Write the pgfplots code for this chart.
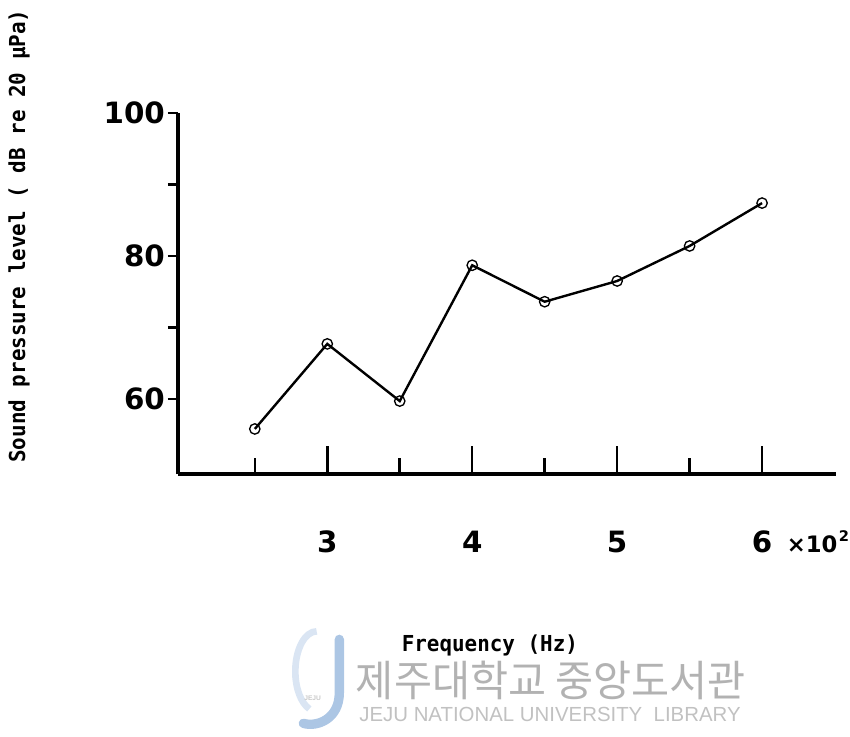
\documentclass[border=0pt]{standalone}
\usepackage{pgfplots}
\pgfplotsset{compat=1.18}
\usepackage{fontspec}
\newfontfamily\tickfont{DejaVu Sans}
\newfontfamily\labelfont{DejaVu Sans Mono}[FakeStretch=0.95]
\newfontfamily\krfont{Noto Sans CJK KR}[FakeStretch=0.97]
\newfontfamily\wmfont{Liberation Sans}
\definecolor{wmgray}{RGB}{178,178,178}
\definecolor{logoblue}{RGB}{172,198,228}

% Sound pressure level versus frequency (x 100 Hz)
\pgfplotstableread{
f   spl
2.5 55.8
3.0 67.7
3.5 59.7
4.0 78.7
4.5 73.6
5.0 76.5
5.5 81.4
6.0 87.4
}\spldata

\pgfplotsset{
  frame/.style={
    at={(0,0)}, anchor=south west, scale only axis,
    width=493.5pt, height=270.75pt,
    xmin=1.97, xmax=6.51, ymin=49.5, ymax=100,
    tick style={black, line width=1.9pt},
    major tick style={black, line width=1.9pt},
    minor tick style={black, line width=1.9pt},
    clip=false,
  },
  thickline/.style={
    axis line style={-, line width=2.3pt, black},
    every outer x axis line/.append style={-},
    every outer y axis line/.append style={-},
  },
}

\begin{document}
\begin{tikzpicture}
\path[use as bounding box] (-133.5pt,-196.5pt) rectangle (504pt,355.5pt);

% library watermark
\draw[logoblue, line width=7pt, line cap=round]
  (121pt,-124pt) -- (121pt,-164pt)
  .. controls (121pt,-184pt) and (104pt,-190pt) .. (94pt,-187pt);
\draw[logoblue!45, line width=5pt] (104pt,-118pt) arc (90:250:16pt and 30pt);
\node[wmgray!70, font=\wmfont\bfseries\fontsize{5}{5}\selectfont] at (101pt,-168pt) {JEJU};
\node[wmgray, font=\krfont\fontsize{32}{32}\selectfont] at (279.75pt,-154.5pt)
  {제주대학교 중앙도서관};
\node[wmgray!80, font=\wmfont\fontsize{15.3}{15.3}\selectfont] at (279pt,-180pt)
  {JEJU NATIONAL UNIVERSITY\ \ LIBRARY};

% y axis and the measured curve
\begin{axis}[frame,
  axis x line=none, axis y line*=left, thickline,
  ytick={60,70,80,90,100}, yticklabels={60,,80,,100},
  tick align=outside, major tick length=7.5pt,
  yticklabel style={font=\tickfont\bfseries\fontsize{22}{22}\selectfont, xshift=1.2pt},
  ylabel={Sound pressure level ( dB re 20 μPa)},
  ylabel style={font=\labelfont\bfseries\fontsize{16.5}{16.5}\selectfont,
    at={(axis description cs:-0.2416,0.659)}, anchor=center},
]
\addplot[black, line width=1.8pt, mark=o, mark size=3.9pt,
  mark options={fill=white, line width=1.0pt}] table[x=f, y=spl] {\spldata};
\end{axis}

% x axis with inward ticks
\begin{axis}[frame,
  axis y line=none, axis x line*=bottom, thickline,
  xtick={3,4,5,6},
  xticklabels={3,4,5,{6\rlap{\hspace{0.5em}\fontsize{17}{17}\selectfont ×10\raisebox{0.5em}{\fontsize{11}{11}\selectfont\hspace{0.1em}2}}}},
  minor xtick={2.5,3.5,4.5,5.5},
  tick align=inside, major tick length=21pt, minor tick length=12pt,
  xticklabel style={font=\tickfont\bfseries\fontsize{22}{22}\selectfont,
    anchor=center, yshift=-51pt},
  xlabel={Frequency (Hz)},
  xlabel style={font=\labelfont\bfseries\fontsize{16.5}{16.5}\selectfont,
    at={(axis description cs:0.474,-0.476)}, anchor=center},
]
\end{axis}
\end{tikzpicture}
\end{document}
